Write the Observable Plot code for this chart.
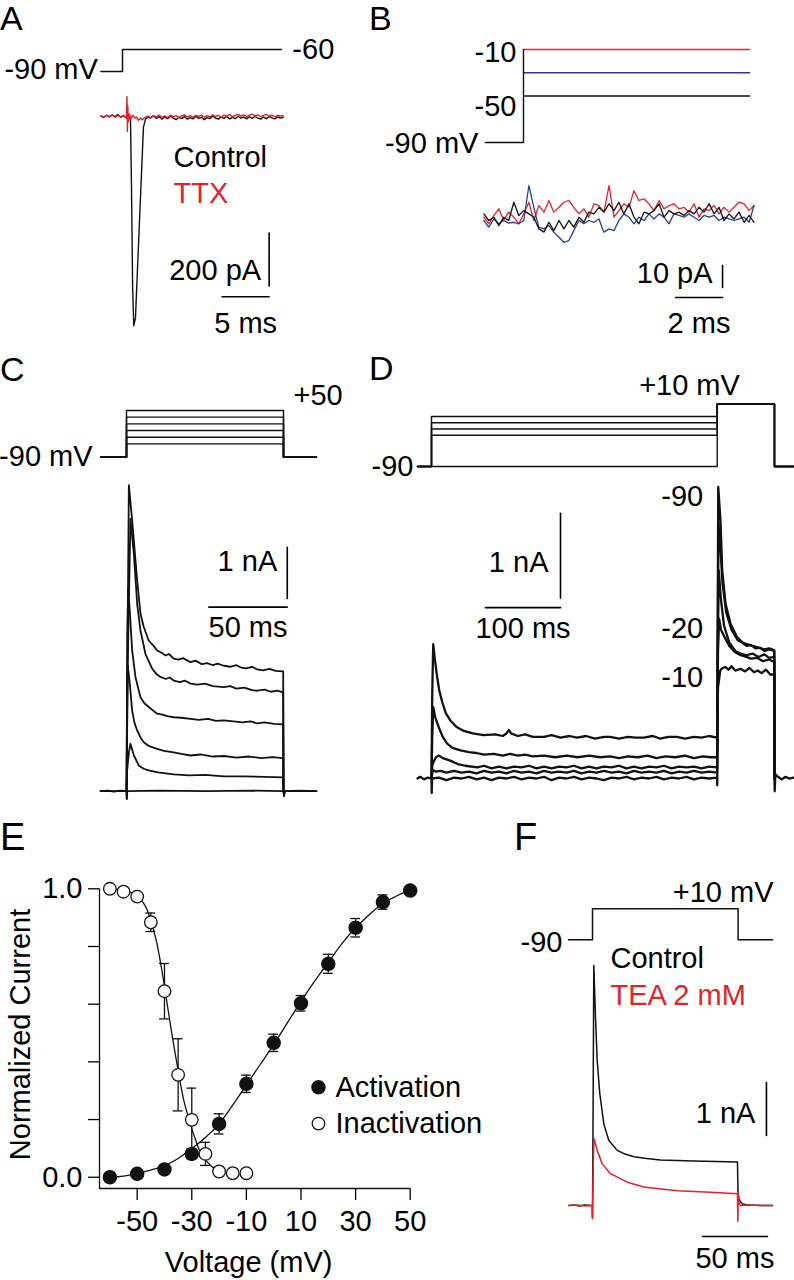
<!DOCTYPE html>
<html><head><meta charset="utf-8">
<script src="https://cdn.jsdelivr.net/npm/d3@7"></script>
<script src="https://cdn.jsdelivr.net/npm/@observablehq/plot@0.6"></script>
<style>
body{margin:0;background:#fff;}
#fig{position:relative;width:794px;height:1280px;overflow:hidden;font-family:"Liberation Sans",Arial,sans-serif;}
.lbl{position:absolute;line-height:1;color:#000;}
</style></head><body><div id="fig">
<div class="lbl" style="left:0px;top:1px;font-size:34px">A</div>
<div class="lbl" style="left:369px;top:1px;font-size:34px">B</div>
<div class="lbl" style="left:0px;top:352px;font-size:34px">C</div>
<div class="lbl" style="left:369px;top:351px;font-size:34px">D</div>
<div class="lbl" style="left:0px;top:818px;font-size:38px">E</div>
<div class="lbl" style="left:514px;top:818px;font-size:38px">F</div>
</div>
<script>
// ---------------- DATA ----------------
// Panel A (time ms, voltage mV / current pA)
const aVolt = [[-2.3,-90],[0,-90],[0,-60],[16.9,-60]];
const aControl = [[-2.3,2],[-2.0,-4],[-1.7,5],[-1.4,-2],[-1.1,6],[-0.8,0],[-0.5,8],[-0.2,-3],[0.1,4],[0.4,-6],[0.6,2],[0.85,-10],[0.95,-250],[1.08,-650],[1.2,-790],[1.38,-760],[1.8,-400],[2.23,-40],[2.45,-10],[2.7,-2],[3.0,-6],[3.3,3],[3.6,-8],[3.9,0],[4.2,-10],[4.5,-2],[4.8,-8],[5.1,2],[5.4,-6],[5.7,-12],[6.0,-3],[6.3,-8],[6.6,0],[6.9,-10],[7.2,-4],[7.5,-9],[7.8,1],[8.1,-7],[8.4,-3],[8.7,-12],[9.0,-4],[9.3,-8],[9.6,2],[9.9,-6],[10.2,-10],[10.5,-2],[10.8,-7],[11.1,0],[11.4,-9],[11.7,-3],[12.0,-8],[12.3,1],[12.6,-6],[12.9,-2],[13.2,-9],[13.5,-1],[13.8,-7],[14.1,0],[14.4,-6],[14.7,-10],[15.0,-2],[15.3,-8],[15.6,0],[15.9,-5],[16.2,-9],[16.5,-2],[16.8,-6],[17.1,-3]];
const aTTX = [[-2.3,3],[-2.0,-2],[-1.7,4],[-1.4,0],[-1.1,5],[-0.8,-3],[-0.5,4],[-0.2,-2],[0.1,2],[0.4,-4],[0.48,75],[0.52,-57],[0.56,40],[0.62,-20],[0.75,10],[0.9,-8],[1.1,5],[1.3,-6],[1.5,-2],[1.7,-14],[1.9,-6],[2.1,-12],[2.4,-4],[2.7,1],[3.0,-4],[3.3,4],[3.6,-2],[3.9,5],[4.2,-3],[4.5,2],[4.8,-4],[5.1,5],[5.4,-1],[5.7,3],[6.0,-4],[6.3,2],[6.6,6],[6.9,-2],[7.2,3],[7.5,-3],[7.8,4],[8.1,0],[8.4,5],[8.7,-3],[9.0,3],[9.3,-1],[9.6,6],[9.9,0],[10.2,4],[10.5,-3],[10.8,5],[11.1,1],[11.4,7],[11.7,-1],[12.0,4],[12.3,8],[12.6,2],[12.9,6],[13.2,-1],[13.5,5],[13.8,9],[14.1,2],[14.4,6],[14.7,0],[15.0,4],[15.3,8],[15.6,1],[15.9,5],[16.2,-1],[16.5,4],[16.8,2],[17.1,3]];

// Panel B (time ms, voltage mV / current pA)
const bLevels = [-10,-30,-50];
const bTime = [-1.69,-1.48,-1.26,-1.05,-0.84,-0.63,-0.41,-0.20,0.01,0.23,0.44,0.65,0.87,1.08,1.29,1.51,1.72,1.93,2.14,2.36,2.57,2.78,3.00,3.21,3.42,3.64,3.85,4.06,4.27,4.49,4.70,4.91,5.13,5.34,5.55,5.77,5.98,6.19,6.40,6.62,6.83,7.04,7.26,7.47,7.68,7.90,8.11,8.32,8.53,8.75,8.96,9.17,9.39,9.60,9.81];
const bRed = [0,-3.0,0.8,3.8,-1.5,2.3,0,-3.0,1.5,6.8,-1.5,5.3,2.3,7.6,2.3,4.5,6.8,7.6,4.5,1.5,3.8,0,6.1,5.3,2.3,14.4,0,3.0,6.1,4.5,12.1,7.6,8.3,6.1,3.0,7.6,3.8,5.3,6.1,3.8,4.5,2.3,6.1,0,3.8,3.0,5.3,1.5,4.5,2.3,4.5,6.8,6.1,3.0,5.3];
const bBlue = [-1.5,-4.5,-0.8,-3.0,-1.5,-2.7,-2.3,-3.0,-1.5,14.4,4.5,-4.5,-5.3,-3.8,-6.8,-9.1,-11.4,-10.6,-6.1,-1.5,-3.0,-1.5,-2.3,-0.8,-6.8,-5.3,-6.1,-1.5,1.5,0,-3.0,0,-1.5,1.5,-0.8,1.5,0,-3.0,1.5,0.8,0,1.5,0,-1.5,0.8,0,0.8,-1.5,0,-0.8,-1.5,-0.8,0,-2.3,5.3];
const bBlack = [1.5,-1.5,0,-3.8,0,-1.5,6.8,0.8,3.0,1.5,0,-5.3,-6.8,-2.3,-6.1,-1.5,-5.3,-1.5,-4.5,0,-2.3,2.3,1.5,4.5,2.3,6.1,3.0,6.8,1.5,6.1,0,-3.0,2.3,1.5,3.0,6.1,0,3.0,1.5,2.3,0.8,3.0,1.5,4.5,2.3,6.1,1.5,4.5,-1.5,1.5,-0.8,2.3,-2.3,0.8,-2.3];

// Panel C (time ms, voltage mV / current nA)
const cLevels = [-50,-30,-10,10,30,50];
const cTr1 = [[-16.5,0],[-12,0.01],[-8,-0.01],[-4,0.01],[0,0],[0.2,-0.15],[0.6,2.5],[1.5,6.0],[3.6,5.31],[6.8,4.13],[8.9,3.48],[11.0,3.22],[14.2,2.95],[17,2.86],[19.5,2.76],[22,2.72],[25,2.66],[27,2.69],[30.1,2.6],[33,2.58],[36,2.61],[40.8,2.53],[44,2.56],[48,2.49],[51.4,2.51],[55,2.47],[58,2.5],[62,2.46],[66,2.44],[70,2.47],[72.6,2.43],[76,2.41],[80,2.44],[83.2,2.39],[87,2.37],[91,2.4],[95,2.36],[99.8,2.35],[100,0],[100.3,-0.08],[101,0],[110,0.01],[121,0]];
const cTr2 = [[0,0],[0.8,2.5],[2.5,5.34],[4.7,4.65],[6.8,3.67],[8.9,3.15],[12.1,2.69],[16.4,2.40],[19,2.3],[21.7,2.24],[25,2.2],[27.5,2.23],[30.1,2.17],[34,2.14],[37,2.17],[40.8,2.11],[45,2.09],[50,2.11],[55,2.06],[62,2.04],[66,2.06],[70,2.01],[75,2.03],[80,1.98],[83.2,1.97],[88,1.99],[92,1.95],[96,1.97],[99.8,1.94],[100,0]];
const cTr3 = [[0,0],[0.5,3.0],[1.0,3.97],[2.1,3.54],[3.6,2.76],[5.7,2.24],[8.9,1.84],[11.5,1.72],[14.2,1.65],[17,1.58],[19.5,1.52],[23,1.5],[26,1.47],[30.1,1.45],[35,1.44],[40.8,1.42],[46,1.4],[52,1.42],[57,1.38],[62,1.39],[68,1.37],[74,1.35],[79,1.37],[83.2,1.33],[88,1.35],[94,1.32],[99.8,1.31],[100,0]];
const cTr4 = [[0,0],[0.4,1.8],[0.8,2.46],[2.1,2.11],[3.6,1.58],[5,1.35],[6.8,1.19],[9,1.05],[11,0.96],[14,0.89],[19.5,0.83],[24,0.79],[30,0.76],[35,0.73],[40.8,0.70],[47,0.72],[55,0.68],[62,0.69],[70,0.66],[78,0.68],[86,0.65],[93,0.67],[99.8,0.65],[100,0]];
const cTr5 = [[0,0],[0.4,0.41],[1.5,0.75],[2.5,0.93],[4.7,0.70],[7.9,0.50],[11,0.44],[14.2,0.41],[20,0.37],[25,0.35],[30.1,0.33],[40,0.31],[50,0.32],[62,0.29],[75,0.29],[88,0.28],[99.8,0.27],[100,0]];
const cTr6 = [[-16.5,0],[0,0],[0.2,-0.15],[0.5,0],[20,0.01],[50,0],[80,0.01],[100,0],[100.3,-0.1],[100.8,0],[121,0]];

// Panel D (time ms, voltage mV / current nA)
const dPre = [-90,-40,-30,-20,-10];
const dTest = 10;
const dM90 = [[-18.7,0],[-15,0.02],[-10,-0.01],[-5,0.01],[0,0],[0.3,-0.17],[0.8,0],[10,0.01],[20,-0.02],[30,0.01],[40,0],[50,0.02],[60,-0.01],[70,0.01],[80,-0.02],[90,0.01],[100,0],[110,0.02],[120,-0.01],[130,0.01],[140,0],[150,0.02],[160,-0.02],[170,0.01],[180,0],[190,0.02],[200,-0.01],[210,0.01],[220,0],[230,-0.02],[240,0.01],[250,0],[260,0.02],[270,-0.01],[280,0.01],[290,0],[300,0.02],[310,-0.01],[320,0.01],[330,0],[340,0.02],[350,-0.01],[360,0.01],[370,0],[380.8,0.01],[381,-0.08],[381.5,1.5],[382.3,3.43],[385.3,3.04],[387.6,2.45],[392,2.06],[398.7,1.82],[407.6,1.66],[415,1.6],[420.9,1.58],[428,1.56],[433,1.55],[438.7,1.53],[444,1.52],[450,1.53],[457,1.51],[457.3,0],[457.6,-0.15],[458.5,0.05],[462,0.02],[467,-0.01],[472,0.02],[477,0],[483,0.01]];
const dM40 = [[0,0],[0.8,0.05],[2,0.1],[6,0.08],[12,0.09],[20,0.07],[30,0.09],[40,0.07],[50,0.08],[60,0.06],[70,0.09],[80,0.07],[90,0.08],[100,0.06],[110,0.09],[120,0.07],[130,0.08],[140,0.06],[150,0.09],[160,0.07],[170,0.08],[180,0.07],[190,0.09],[200,0.06],[210,0.08],[220,0.07],[230,0.09],[240,0.07],[250,0.08],[260,0.06],[270,0.09],[280,0.07],[290,0.08],[300,0.07],[310,0.09],[320,0.06],[330,0.08],[340,0.07],[350,0.09],[360,0.07],[370,0.08],[380.8,0.07],[381.6,1.5],[382.6,3.0],[385,2.75],[388,2.3],[393,1.95],[400,1.75],[408,1.63],[414,1.6],[420,1.56],[426,1.57],[432,1.53],[438,1.54],[444,1.5],[450,1.52],[457,1.5],[457.3,0]];
const dM30 = [[0,0],[1,0.15],[2.3,0.19],[6,0.25],[9.8,0.27],[15,0.24],[25,0.21],[35,0.17],[45,0.15],[61,0.13],[70,0.15],[80,0.12],[90,0.14],[100,0.12],[110,0.14],[120,0.13],[130,0.15],[140,0.12],[150,0.14],[160,0.12],[170,0.14],[180,0.13],[190,0.15],[200,0.12],[210,0.14],[220,0.12],[230,0.14],[240,0.13],[250,0.15],[260,0.12],[270,0.14],[280,0.12],[290,0.14],[300,0.13],[310,0.15],[320,0.12],[330,0.14],[340,0.13],[350,0.14],[360,0.12],[370,0.14],[380.8,0.13],[381.8,1.6],[383,2.45],[386,2.1],[390,1.8],[397,1.6],[405,1.5],[412,1.47],[420,1.45],[428,1.47],[436,1.43],[444,1.46],[450,1.42],[457,1.43],[457.3,0]];
const dM20 = [[0,0],[1,0.5],[2.3,0.84],[5,0.72],[9.8,0.6],[15,0.49],[20.9,0.41],[28,0.36],[38.7,0.33],[50,0.31],[60,0.3],[70,0.28],[83,0.29],[95,0.27],[105,0.29],[115,0.27],[125,0.28],[135,0.26],[150,0.27],[165,0.25],[180,0.27],[195,0.25],[210,0.27],[225,0.25],[238,0.26],[250,0.24],[262,0.26],[275,0.25],[288,0.27],[300,0.24],[312,0.26],[325,0.25],[338,0.27],[350,0.24],[362,0.26],[372,0.25],[380.8,0.25],[382,1.5],[383.5,1.88],[386,1.75],[391,1.66],[397,1.56],[404,1.49],[412,1.45],[420,1.43],[426,1.41],[434,1.42],[442,1.38],[450,1.4],[457,1.37],[457.3,0]];
const dM10 = [[0,0],[1,1.0],[2.3,1.58],[4.5,1.4],[7.6,1.19],[10.5,1.03],[14.3,0.9],[19,0.77],[25.3,0.68],[33,0.61],[43,0.56],[55,0.53],[69.7,0.51],[85,0.52],[95,0.5],[100,0.53],[103,0.57],[106,0.53],[115,0.5],[125,0.52],[135,0.49],[150,0.49],[160,0.51],[172,0.48],[184,0.5],[194,0.48],[206,0.5],[218,0.47],[230,0.49],[238,0.49],[250,0.47],[262,0.49],[272,0.48],[283,0.48],[295,0.5],[305,0.47],[316,0.49],[327,0.49],[338,0.47],[350,0.49],[360,0.48],[370,0.5],[380.8,0.48],[382,1.07],[385,1.27],[388,1.3],[392,1.31],[396,1.28],[400,1.32],[405,1.27],[412,1.29],[418,1.26],[424,1.3],[430,1.25],[435,1.27],[440,1.24],[446,1.28],[452,1.22],[457,1.23],[457.3,0]];

// Panel E (voltage mV, normalized current)
const actV = [-60,-50,-40,-30,-20,-10,0,10,20,30,40,50];
const actI = [0.0,0.012,0.027,0.081,0.185,0.324,0.466,0.603,0.74,0.865,0.954,0.994];
const actErr = [0.005,0.008,0.01,0.017,0.035,0.03,0.03,0.027,0.033,0.032,0.025,0.005];
const inactV = [-60,-55,-50,-45,-40,-35,-30,-25,-20,-15,-10];
const inactI = [1.0,0.99,0.973,0.884,0.645,0.355,0.199,0.081,0.02,0.014,0.014];
const inactErr = [0.01,0.01,0.012,0.032,0.096,0.125,0.11,0.04,0.008,0.005,0.005];
const actFit = [[-60,0],[-55,0.004],[-50,0.014],[-45,0.025],[-40,0.04],[-35,0.065],[-30,0.1],[-25,0.138],[-20,0.185],[-15,0.25],[-10,0.32],[-5,0.39],[0,0.46],[5,0.535],[10,0.61],[15,0.68],[20,0.745],[25,0.81],[30,0.865],[35,0.91],[40,0.95],[45,0.975],[50,0.997]];
const inactFit = [[-60,1.0],[-55,0.995],[-50,0.975],[-47,0.94],[-45,0.89],[-43,0.82],[-41,0.72],[-39,0.6],[-37,0.48],[-35,0.37],[-33,0.27],[-31,0.2],[-29,0.14],[-27,0.09],[-25,0.06],[-23,0.04],[-20,0.02]];
const eXTicks = [-50,-30,-10,10,30,50];
const eYTicks = [0,0.2,0.4,0.6,0.8,1.0];

// Panel F (time ms, voltage mV / current nA)
const fVolt = [[-18.5,-90],[0,-90],[0,10],[112,10],[112,-90],[138.5,-90]];
const fControl = [[-18.2,0],[-14,0.01],[-10,-0.01],[-6,0.01],[-0.2,0],[0,-0.22],[0.5,2.0],[1.0,4.53],[2.3,3.55],[3.6,2.74],[5.6,2.11],[8.7,1.54],[12.5,1.23],[19,1.04],[25,0.97],[31.8,0.92],[40,0.89],[52.3,0.86],[65,0.85],[77.9,0.84],[95,0.83],[111.5,0.82],[112,0.19],[113,0.1],[115.2,0.03],[120,0.01],[130,0],[138.5,0]];
const fTEA = [[-18.2,0],[-12,0.01],[-6,-0.01],[-0.3,0],[0,-0.25],[0.3,0.3],[0.8,1.0],[1.3,1.26],[3.6,1.04],[7.4,0.79],[13.8,0.60],[26.7,0.44],[39.5,0.35],[65.2,0.28],[90.8,0.25],[111.5,0.22],[111.8,-0.3],[112.2,0.25],[112.6,0.05],[114,0],[120,0.01],[130,0],[138.5,0]];

// ---------------- DRAWING ----------------
const FONT = '"Liberation Sans", Arial, sans-serif';
const RED = "#e3232b", BLUE = "#2b3a97", INK = "#111";
const FS = 29;
const fig = document.getElementById("fig");
function panel(opts) {
  const svg = Plot.plot({
    width: 794, height: 1280, margin: 0, ...opts,
    style: {position: "absolute", left: "0px", top: "0px", background: "transparent", fontFamily: FONT, overflow: "visible"}
  });
  fig.appendChild(svg);
}
const L = (data, o = {}) => Plot.line(data, {x: d => d[0], y: d => d[1], stroke: INK, strokeWidth: 1.5, strokeLinejoin: "round", ...o});
const T = (s, x, y, o = {}) => Plot.text([s], {x, y, text: d => d, fontSize: FS, fill: "#000", ...o});
const bar = (x1, y1, x2, y2) => L([[x1, y1], [x2, y2]], {strokeWidth: 1.6, stroke: "#000"});

// ----- A -----
panel({x: {domain: [0, 5], range: [122, 169], axis: null}, y: {domain: [-90, -60], range: [71, 49], axis: null},
  marks: [L(aVolt), T("-90 mV", -2.3, -90, {textAnchor: "end", dx: -3, dy: -2}), T("-60", 16.9, -60, {textAnchor: "start", dx: 11})]});
panel({x: {domain: [0, 5], range: [122, 169], axis: null}, y: {domain: [0, -200], range: [116, 169], axis: null},
  marks: [
    L(aControl, {strokeWidth: 1.4}), L(aTTX, {stroke: RED, strokeWidth: 1.4}),
    T("Control", 5.43, -155, {textAnchor: "start"}), T("TTX", 5.43, -290, {textAnchor: "start", fill: RED}),
    bar(15.6, -440, 15.6, -640), bar(10.6, -680, 15.6, -680),
    T("200 pA", 15.6, -581, {textAnchor: "end", dx: -8}), T("5 ms", 13.1, -680, {dy: 27})
  ]});

// ----- B -----
const bColors = [RED, BLUE, INK];
panel({x: {domain: [0, 2], range: [523, 570], axis: null}, y: {domain: [-90, -10], range: [142, 49], axis: null},
  marks: [
    ...bLevels.map((v, i) => L([[0, v], [9.62, v]], {stroke: bColors[i], strokeWidth: 1.4})),
    L([[-1.62, -90], [0, -90], [0, -10]], {strokeWidth: 1.4}),
    T("-10", 0, -10, {textAnchor: "end", dx: -7, dy: 3}), T("-50", 0, -50, {textAnchor: "end", dx: -7, dy: 11}),
    T("-90 mV", -1.62, -90, {textAnchor: "end", dx: -7, dy: 1})
  ]});
const bSeries = [bRed, bBlue, bBlack];
panel({x: {domain: [0, 2], range: [523, 570], axis: null}, y: {domain: [0, 10], range: [216.7, 194.7], axis: null},
  marks: [
    ...[0, 1, 2].map(i => Plot.line(bTime, {x: d => d, y: (d, k) => bSeries[i][k], stroke: bColors[i], strokeWidth: 1.3, strokeLinejoin: "round"})),
    bar(8.47, -22, 8.47, -32), bar(6.47, -36.5, 8.47, -36.5),
    T("10 pA", 8.47, -25.6, {textAnchor: "end", dx: -10}), T("2 ms", 7.47, -36.5, {dy: 26})
  ]});

// ----- C -----
panel({x: {domain: [0, 100], range: [126, 283], axis: null}, y: {domain: [-90, 50], range: [456.7, 410], axis: null},
  marks: [
    ...cLevels.map(v => L([[-16.5, -90], [0, -90], [0, v], [100, v], [100, -90], [121, -90]], {strokeWidth: 1.4})),
    T("-90 mV", -16.5, -90, {textAnchor: "end", dx: -8}), T("+50", 100, 50, {textAnchor: "start", dx: 10, dy: -15})
  ]});
panel({x: {domain: [0, 100], range: [126, 283], axis: null}, y: {domain: [0, 1], range: [790.7, 739.7], axis: null},
  marks: [
    ...[cTr6, cTr5, cTr4, cTr3, cTr2, cTr1].map(tr => L(tr, {strokeWidth: 1.8})),
    bar(102.4, 3.78, 102.4, 4.78), bar(52.4, 3.61, 102.4, 3.61),
    T("1 nA", 102.4, 4.49, {textAnchor: "end", dx: -10}), T("50 ms", 77.4, 3.61, {dy: 21})
  ]});

// ----- D -----
panel({x: {domain: [0, 100], range: [431, 506], axis: null}, y: {domain: [-90, 10], range: [466, 403.5], axis: null},
  marks: [
    ...dPre.map(v => L([[-18.7, -90], [0, -90], [0, v], [381, v], [381, dTest], [457.3, dTest], [457.3, -90], [483, -90]], {strokeWidth: 1.4})),
    T("-90", -18.7, -90, {textAnchor: "end", dx: -4}), T("+10 mV", 344, dTest, {dy: -18})
  ]});
panel({x: {domain: [0, 100], range: [431, 506], axis: null}, y: {domain: [0, 1], range: [778, 693], axis: null},
  marks: [
    ...[dM90, dM40, dM30, dM20, dM10].map(tr => L(tr, {strokeWidth: 2.3})),
    bar(172, 2.12, 172, 3.12), bar(72, 2.01, 172, 2.01),
    T("1 nA", 172, 2.54, {textAnchor: "end", dx: -12}), T("100 ms", 122, 2.01, {dy: 21}),
    T("-90", 381, 3.31, {textAnchor: "end", dx: -14}), T("-20", 381, 1.76, {textAnchor: "end", dx: -14}), T("-10", 381, 1.18, {textAnchor: "end", dx: -14})
  ]});

// ----- E -----
const act = actV.map((v, i) => ({v, y: actI[i], e: actErr[i]}));
const inact = inactV.map((v, i) => ({v, y: inactI[i], e: inactErr[i]}));
const errMarks = data => [
  Plot.ruleX(data, {x: "v", y1: d => d.y - d.e, y2: d => d.y + d.e, stroke: INK, strokeWidth: 1.3}),
  Plot.ruleY(data, {y: d => d.y + d.e, x1: d => d.v - 1.8, x2: d => d.v + 1.8, stroke: INK, strokeWidth: 1.3}),
  Plot.ruleY(data, {y: d => d.y - d.e, x1: d => d.v - 1.8, x2: d => d.v + 1.8, stroke: INK, strokeWidth: 1.3})
];
panel({
  marginLeft: 99, marginRight: 384.3, marginTop: 888.3, marginBottom: 92,
  x: {domain: [-63.8, 50], axis: null}, y: {domain: [-0.039, 1.0], axis: null},
  marks: [
    Plot.ruleX([-63.8], {y1: -0.039, y2: 1.0, stroke: INK, strokeWidth: 1.3}),
    Plot.ruleY([-0.039], {x1: -63.8, x2: 50, stroke: INK, strokeWidth: 1.3}),
    Plot.axisX({ticks: eXTicks, tickSize: 12, tickPadding: 10, fontSize: FS, tickFormat: d => String(d), label: null, strokeWidth: 1.3}),
    Plot.axisY({ticks: eYTicks, tickSize: 11, tickPadding: 6, fontSize: FS, tickFormat: d => (d === 0 || d === 1) ? d.toFixed(1) : "", label: null, strokeWidth: 1.3}),
    ...errMarks(act), ...errMarks(inact),
    L(actFit, {curve: "catmull-rom", strokeWidth: 1.3}),
    L(inactFit, {curve: "catmull-rom", strokeWidth: 1.3}),
    Plot.dot(act, {x: "v", y: "y", r: 6.5, fill: INK, stroke: INK}),
    Plot.dot(inact, {x: "v", y: "y", r: 6.3, fill: "white", stroke: INK, strokeWidth: 1.3}),
    Plot.dot([0], {x: 16.4, y: 0.312, r: 6.5, fill: INK, stroke: INK}),
    Plot.dot([0], {x: 16.4, y: 0.186, r: 6.3, fill: "white", stroke: INK, strokeWidth: 1.3}),
    T("Activation", 16.4, 0.312, {textAnchor: "start", dx: 17}),
    T("Inactivation", 16.4, 0.186, {textAnchor: "start", dx: 17}),
    T("Normalized Current", -63.8, 0.495, {dx: -79, rotate: -90}),
    T("Voltage (mV)", -9.2, -0.039, {dy: 74})
  ]});

// ----- F -----
panel({x: {domain: [0, 50], range: [592, 657], axis: null}, y: {domain: [-90, 10], range: [939.3, 908.3], axis: null},
  marks: [L(fVolt, {strokeWidth: 1.5}), T("+10 mV", 138.5, 10, {textAnchor: "end", dx: 1, dy: -16}), T("-90", -18.5, -90, {textAnchor: "end", dx: -6, dy: 3})]});
panel({x: {domain: [0, 50], range: [592, 657], axis: null}, y: {domain: [0, 1], range: [1205, 1152], axis: null},
  marks: [
    L(fControl, {strokeWidth: 1.5}), L(fTEA, {stroke: RED, strokeWidth: 1.5}),
    T("Control", 13.8, 4.66, {textAnchor: "start"}), T("TEA 2 mM", 13.8, 3.96, {textAnchor: "start", fill: RED}),
    bar(133.8, 1.32, 133.8, 2.32), bar(84.6, -0.585, 134.6, -0.585),
    T("1 nA", 133.8, 1.74, {textAnchor: "end", dx: -11}), T("50 ms", 109.6, -0.585, {dy: 22})
  ]});
</script></body></html>
